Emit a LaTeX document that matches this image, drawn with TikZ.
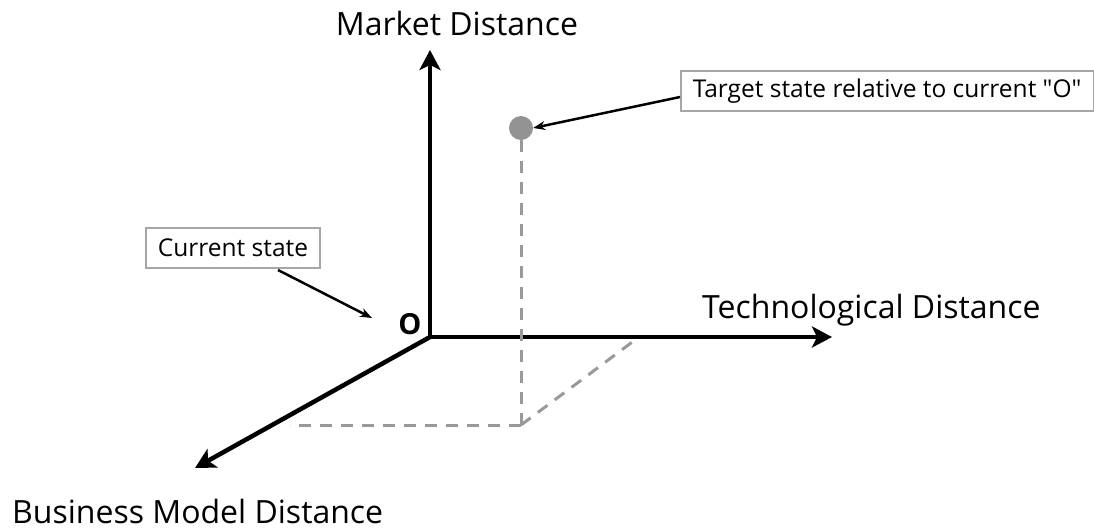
\documentclass[tikz,border=0pt]{standalone}
\usepackage{fontspec}
\setmainfont{Open Sans}[Ligatures=TeXOff]
\usetikzlibrary{arrows.meta,positioning}
\tikzset{
  axislabel/.style={font=\fontsize{32}{36}\selectfont, inner sep=0pt},
  notebox/.style={draw=gray!70, line width=1.5pt, fill=white, inner xsep=12pt, minimum height=40pt, font=\fontsize{24.5}{28}\selectfont},
  guide/.style={gray!80, line width=3pt, dash pattern=on 12pt off 9pt},
}

\begin{document}
\begin{tikzpicture}[x=1pt,y=-1pt,>={Stealth[length=20pt,width=21pt,inset=5pt]}]
    \useasboundingbox (0,0) rectangle (1094,531);

    % axes
    \coordinate (o) at (430,337);
    \coordinate (mk) at (430,50);
    \coordinate (tc) at (832,337);
    \coordinate (bm) at (195,468);
    \draw[line width=4.5pt,->] (o) -- (mk);
    \draw[line width=4.5pt,->] (o) -- (tc);
    \draw[line width=4.5pt,->] (o) -- (bm);

    \node[axislabel,anchor=base] (mklabel) at (457,35) {Market Distance};
    \node[axislabel,anchor=base west] (tclabel) at (702,318) {Technological Distance};
    \node[axislabel,anchor=base west] (bmlabel) at (12,523) {Business Model Distance};
    \node[font=\fontsize{29}{34}\selectfont\bfseries, inner sep=0pt] (olabel) at (410,324) {O};

    % target point and its projection
    \node[circle, fill=gray!85, inner sep=0pt, minimum size=24pt] (target) at (521,128) {};
    \coordinate (foot) at (521,425);
    \coordinate (onbm) at (290,425);
    \coordinate (ontc) at (635,340);
    \draw[guide] (target.south) -- (foot);
    \draw[guide] (foot) -- (onbm);
    \draw[guide] (foot) -- (ontc);

    % notes
    \node[notebox] (cur) at (233,248) {Current state};
    \node[notebox,anchor=west] (tgt) at (680,91) {Target state relative to current "O"};
    \draw[line width=2.5pt,-{Stealth[length=12pt,width=9pt]}] (278,270) -- (372,318);
    \draw[line width=2.5pt,-{Stealth[length=12pt,width=9pt]}] (tgt.west) ++(0,6) -- (target.east);

\end{tikzpicture}
\end{document}
